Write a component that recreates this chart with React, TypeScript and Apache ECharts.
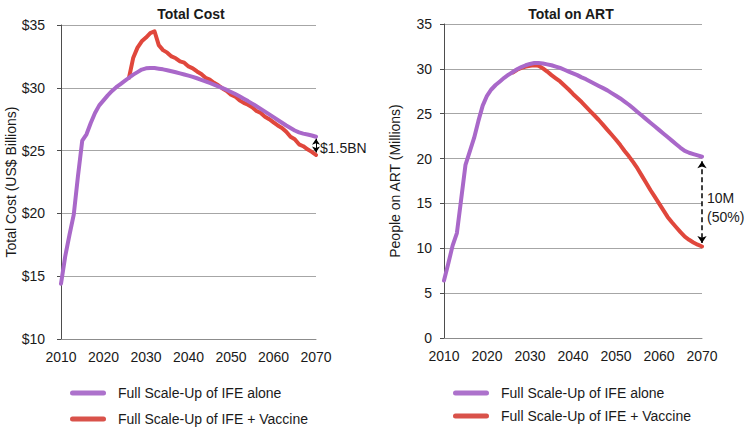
import React, { useEffect, useRef } from "react";
import * as echarts from "echarts";

const FONT = "'Liberation Sans', Arial, Helvetica, sans-serif";
const PURPLE = "#a968c9";
const RED = "#e0473c";
const LEGEND_PURPLE = "#ad72cc";
const LEGEND_RED = "#d9524a";

const seriesNames = ["Full Scale-Up of IFE alone", "Full Scale-Up of IFE + Vaccine"];

// Total Cost (US$ Billions)
const costYearsAlone = [
  2010, 2011, 2012, 2013, 2014, 2015, 2016, 2017, 2018, 2019, 2020, 2021, 2022, 2023, 2024, 2025,
  2026, 2027, 2028, 2029, 2030, 2031, 2032, 2033, 2034, 2035, 2036, 2037, 2038, 2039, 2040, 2041,
  2042, 2043, 2044, 2045, 2046, 2047, 2048, 2049, 2050, 2051, 2052, 2053, 2054, 2055, 2056, 2057,
  2058, 2059, 2060, 2061, 2062, 2063, 2064, 2065, 2066, 2067, 2068, 2069, 2070,
];
const costAlone = [
  14.4, 16.6, 18.3, 19.9, 23.0, 25.8, 26.3, 27.2, 28.0, 28.6, 29.0, 29.4, 29.75, 30.05, 30.3, 30.55,
  30.8, 31.05, 31.25, 31.45, 31.55, 31.58, 31.57, 31.52, 31.47, 31.4, 31.32, 31.24, 31.15, 31.06, 30.97, 30.87,
  30.76, 30.64, 30.52, 30.39, 30.26, 30.12, 29.98, 29.83, 29.67, 29.5, 29.32, 29.13, 28.94, 28.74, 28.53, 28.32,
  28.1, 27.88, 27.66, 27.44, 27.22, 27.0, 26.8, 26.6, 26.45, 26.35, 26.28, 26.2, 26.1,
];
const costYearsVaccine = [
  2026, 2027, 2028, 2029, 2030, 2031, 2032, 2033, 2034, 2035, 2036, 2037, 2038, 2039, 2040, 2041,
  2042, 2043, 2044, 2045, 2046, 2047, 2048, 2049, 2050, 2051, 2052, 2053, 2054, 2055, 2056, 2057,
  2058, 2059, 2060, 2061, 2062, 2063, 2064, 2065, 2066, 2067, 2068, 2069, 2070,
];
const costVaccine = [
  30.8, 32.4, 33.2, 33.7, 34.0, 34.35, 34.5, 33.4, 33.0, 32.8, 32.5, 32.35, 32.1, 32.0, 31.7, 31.55,
  31.3, 31.1, 30.8, 30.65, 30.4, 30.2, 29.95, 29.75, 29.45, 29.3, 29.0, 28.8, 28.65, 28.45, 28.15, 28.0,
  27.7, 27.5, 27.25, 27.0, 26.8, 26.5, 26.1, 25.9, 25.5, 25.35, 25.1, 24.9, 24.65,
];

// Total on ART (Millions)
const artYearsAlone = costYearsAlone;
const artAlone = [
  6.4, 8.3, 10.3, 11.7, 15.5, 19.3, 20.8, 22.3, 24.2, 25.9, 27.0, 27.7, 28.2, 28.6, 29.0, 29.35,
  29.65, 29.95, 30.2, 30.4, 30.55, 30.65, 30.65, 30.6, 30.5, 30.4, 30.25, 30.1, 29.9, 29.7, 29.5, 29.3,
  29.05, 28.85, 28.6, 28.35, 28.1, 27.85, 27.6, 27.3, 27.0, 26.7, 26.35, 26.0, 25.6, 25.2, 24.8, 24.4,
  24.0, 23.6, 23.2, 22.8, 22.4, 22.0, 21.6, 21.2, 20.85, 20.65, 20.5, 20.35, 20.2,
];
const artYearsVaccine = costYearsVaccine;
const artVaccine = [
  29.6, 29.9, 30.1, 30.25, 30.35, 30.4, 30.35, 30.05, 29.7, 29.3, 28.95, 28.6, 28.15, 27.7, 27.2, 26.75,
  26.3, 25.8, 25.3, 24.8, 24.3, 23.75, 23.2, 22.65, 22.1, 21.5, 20.85, 20.25, 19.6, 18.9, 18.1, 17.3,
  16.5, 15.75, 15.0, 14.25, 13.5, 12.9, 12.35, 11.8, 11.3, 10.95, 10.65, 10.4, 10.2,
];

const costTicks = ["$10", "$15", "$20", "$25", "$30", "$35"];

const pairs = (xs: number[], ys: number[]) => xs.map((x, i) => [x, ys[i]]);

function legendBlock(x: number, y: number, rowGap: number) {
  const colors = [LEGEND_PURPLE, LEGEND_RED];
  const children: any[] = [];
  seriesNames.forEach((name, i) => {
    const cy = y + i * rowGap;
    children.push({
      type: "rect",
      shape: { x: x, y: cy - 2.5, width: 36, height: 5, r: 2.5 },
      style: { fill: colors[i] },
    });
    children.push({
      type: "text",
      x: x + 48,
      y: cy,
      style: {
        text: name,
        font: `14px ${FONT}`,
        fill: "#1a1a1a",
        verticalAlign: "middle",
        align: "left",
      },
    });
  });
  return { type: "group", children };
}

export default function App() {
  const ref = useRef<HTMLDivElement>(null);
  useEffect(() => {
    if (!ref.current) return;
    const chart = echarts.init(ref.current, null, { renderer: "svg" });
    const textBase = { fontFamily: FONT, color: "#1a1a1a", fontSize: 14 };
    const xAxisBase = {
      type: "value",
      min: 2010,
      max: 2070,
      interval: 10,
      axisLine: { show: true, lineStyle: { color: "#8c8c8c", width: 1 } },
      axisTick: { show: false },
      splitLine: { show: false },
      axisLabel: { ...textBase, margin: 11, formatter: (v: number) => String(v) },
    };
    const yAxisBase = {
      type: "value",
      nameLocation: "middle",
      nameRotate: 90,
      nameTextStyle: { ...textBase },
      axisLine: { show: true, lineStyle: { color: "#4d4d4d", width: 1 } },
      axisTick: { show: true, length: 4, inside: false, lineStyle: { color: "#4d4d4d" } },
      splitLine: { show: true, lineStyle: { color: "#a6a6a6", width: 1 } },
    };
    const lineBase = {
      type: "line",
      showSymbol: false,
      symbol: "none",
      smooth: false,
      lineStyle: { width: 4, cap: "round", join: "round" },
      emphasis: { disabled: true },
    };
    chart.setOption({
      animation: false,
      backgroundColor: "#ffffff",
      textStyle: { fontFamily: FONT },
      title: [
        {
          text: "Total Cost",
          left: 186,
          top: 2,
          textAlign: "center",
          textStyle: { fontFamily: FONT, fontSize: 14, fontWeight: "bold", color: "#1a1a1a" },
        },
        {
          text: "Total on ART",
          left: 566,
          top: 2,
          textAlign: "center",
          textStyle: { fontFamily: FONT, fontSize: 14, fontWeight: "bold", color: "#1a1a1a" },
        },
      ],
      grid: [
        { left: 61, top: 25, width: 255, height: 314, outerBoundsMode: "none", containLabel: false },
        { left: 444, top: 24, width: 258, height: 314, outerBoundsMode: "none", containLabel: false },
      ],
      xAxis: [
        { ...xAxisBase, gridIndex: 0 },
        { ...xAxisBase, gridIndex: 1 },
      ],
      yAxis: [
        {
          ...yAxisBase,
          gridIndex: 0,
          min: 10,
          max: 35,
          interval: 5,
          name: "Total Cost (US$ Billions)",
          nameGap: 42,
          axisLabel: {
            ...textBase,
            margin: 16,
            formatter: (v: number) => costTicks[Math.round((v - 10) / 5)] ?? "",
          },
        },
        {
          ...yAxisBase,
          gridIndex: 1,
          min: 0,
          max: 35,
          interval: 5,
          name: "People on ART (Millions)",
          nameGap: 42,
          axisLabel: { ...textBase, margin: 12 },
        },
      ],
      series: [
        {
          ...lineBase,
          name: seriesNames[1],
          xAxisIndex: 0,
          yAxisIndex: 0,
          color: RED,
          data: pairs(costYearsVaccine, costVaccine),
          markLine: {
            silent: true,
            symbol: ["arrow", "arrow"],
            symbolSize: [6, 6],
            label: { show: false },
            lineStyle: { color: "#000", width: 1, type: "solid" },
            data: [[{ coord: [2070, 25.95] }, { coord: [2070, 24.85] }]],
          },
        },
        {
          ...lineBase,
          name: seriesNames[0],
          xAxisIndex: 0,
          yAxisIndex: 0,
          color: PURPLE,
          data: pairs(costYearsAlone, costAlone),
        },
        {
          ...lineBase,
          name: seriesNames[1],
          xAxisIndex: 1,
          yAxisIndex: 1,
          color: RED,
          data: pairs(artYearsVaccine, artVaccine),
          markLine: {
            silent: true,
            symbol: ["arrow", "arrow"],
            symbolSize: [7, 7],
            label: { show: false },
            lineStyle: { color: "#000", width: 1.5, type: [5, 3] },
            data: [[{ coord: [2070, 19.7] }, { coord: [2070, 10.6] }]],
          },
        },
        {
          ...lineBase,
          name: seriesNames[0],
          xAxisIndex: 1,
          yAxisIndex: 1,
          color: PURPLE,
          data: pairs(artYearsAlone, artAlone),
        },
      ],
      graphic: [
        {
          type: "text",
          left: 320,
          top: 141,
          style: { text: "$1.5BN", font: `14px ${FONT}`, fill: "#1a1a1a" },
        },
        {
          type: "text",
          left: 707,
          top: 188,
          style: { text: "10M\n(50%)", font: `14px ${FONT}`, fill: "#1a1a1a", lineHeight: 19 },
        },
        legendBlock(70, 393, 26),
        legendBlock(453, 393, 23),
      ],
    });
    return () => chart.dispose();
  }, []);
  return (
    <div
      ref={ref}
      style={{ position: "fixed", left: 0, top: 0, width: 750, height: 431 }}
    />
  );
}
